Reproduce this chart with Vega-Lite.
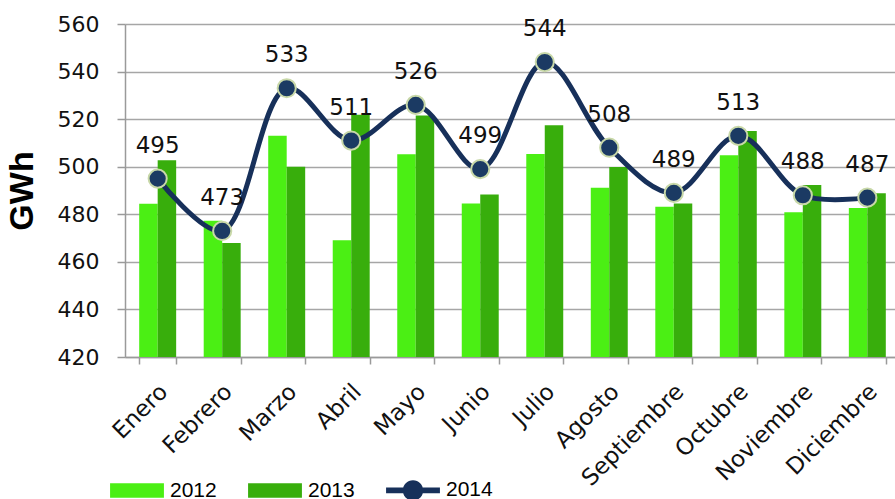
{
  "$schema": "https://vega.github.io/schema/vega-lite/v6.json",
  "autosize": "none",
  "width": 775,
  "height": 333,
  "padding": {"left": 125, "top": 24, "right": 0, "bottom": 142},
  "background": "white",
  "config": {"view": {"stroke": null}},
  "data": {"values": [
    {"mes": "Enero", "serie": "2012", "valor": 484.4},
    {"mes": "Enero", "serie": "2013", "valor": 502.7},
    {"mes": "Enero", "serie": "2014", "valor": 495},
    {"mes": "Febrero", "serie": "2012", "valor": 477.3},
    {"mes": "Febrero", "serie": "2013", "valor": 467.9},
    {"mes": "Febrero", "serie": "2014", "valor": 473},
    {"mes": "Marzo", "serie": "2012", "valor": 513},
    {"mes": "Marzo", "serie": "2013", "valor": 500},
    {"mes": "Marzo", "serie": "2014", "valor": 533},
    {"mes": "Abril", "serie": "2012", "valor": 469.1},
    {"mes": "Abril", "serie": "2013", "valor": 521.8},
    {"mes": "Abril", "serie": "2014", "valor": 511},
    {"mes": "Mayo", "serie": "2012", "valor": 505.2},
    {"mes": "Mayo", "serie": "2013", "valor": 521.5},
    {"mes": "Mayo", "serie": "2014", "valor": 526},
    {"mes": "Junio", "serie": "2012", "valor": 484.5},
    {"mes": "Junio", "serie": "2013", "valor": 488.3},
    {"mes": "Junio", "serie": "2014", "valor": 499},
    {"mes": "Julio", "serie": "2012", "valor": 505.3},
    {"mes": "Julio", "serie": "2013", "valor": 517.4},
    {"mes": "Julio", "serie": "2014", "valor": 544},
    {"mes": "Agosto", "serie": "2012", "valor": 491.2},
    {"mes": "Agosto", "serie": "2013", "valor": 499.9},
    {"mes": "Agosto", "serie": "2014", "valor": 508},
    {"mes": "Septiembre", "serie": "2012", "valor": 483.2},
    {"mes": "Septiembre", "serie": "2013", "valor": 484.5},
    {"mes": "Septiembre", "serie": "2014", "valor": 489},
    {"mes": "Octubre", "serie": "2012", "valor": 504.8},
    {"mes": "Octubre", "serie": "2013", "valor": 515},
    {"mes": "Octubre", "serie": "2014", "valor": 513},
    {"mes": "Noviembre", "serie": "2012", "valor": 480.9},
    {"mes": "Noviembre", "serie": "2013", "valor": 492.3},
    {"mes": "Noviembre", "serie": "2014", "valor": 488},
    {"mes": "Diciembre", "serie": "2012", "valor": 482.6},
    {"mes": "Diciembre", "serie": "2013", "valor": 488.8},
    {"mes": "Diciembre", "serie": "2014", "valor": 487}
  ]},
  "encoding": {
    "x": {
      "field": "mes", "type": "nominal",
      "sort": ["Enero","Febrero","Marzo","Abril","Mayo","Junio","Julio","Agosto","Septiembre","Octubre","Noviembre","Diciembre"],
      "scale": {"paddingInner": 0.427, "paddingOuter": 0.22},
      "axis": {
        "title": null, "labelAngle": -45, "labelAlign": "right", "labelBaseline": "top",
        "labelFont": "DejaVu Sans", "labelFontSize": 23, "labelColor": "#111111",
        "labelPadding": 16, "labelOffset": -2, "tickBand": "extent", "tickColor": "#9a9a9a", "tickSize": 7, "tickWidth": 1.5,
        "domainColor": "#9a9a9a", "domainWidth": 1.5, "grid": false
      }
    },
    "y": {
      "field": "valor", "type": "quantitative",
      "scale": {"domain": [420, 560], "zero": false, "nice": false},
      "axis": {
        "title": "GWh", "titleFont": "Liberation Sans", "titleFontSize": 34, "titleFontWeight": "bold",
        "titleColor": "#000000", "titlePadding": 18,
        "values": [420, 440, 460, 480, 500, 520, 540, 560],
        "labelFont": "DejaVu Sans", "labelFontSize": 22, "labelColor": "#111111", "labelPadding": 18,
        "tickColor": "#9a9a9a", "tickSize": 8, "tickWidth": 1.5,
        "domainColor": "#9a9a9a", "domainWidth": 1.5,
        "grid": true, "gridColor": "#a6a6a6", "gridWidth": 1.5
      }
    }
  },
  "layer": [
    {
      "transform": [{"filter": "datum.serie !== '2014'"}],
      "mark": {"type": "bar", "clip": true},
      "encoding": {
        "xOffset": {"field": "serie", "type": "nominal", "scale": {"domain": ["2012", "2013"], "paddingInner": 0, "paddingOuter": 0}},
        "color": {
          "field": "serie", "type": "nominal",
          "scale": {"domain": ["2012", "2013", "2014"], "range": ["#4BEF14", "#38AE0C", "#17305A"]},
          "legend": {
            "orient": "none", "legendX": -15, "legendY": 439, "direction": "horizontal", "title": null,
            "labelFont": "Liberation Sans", "labelFontSize": 21, "labelColor": "#000000",
            "symbolSize": 2900, "symbolStrokeWidth": 0, "symbolOpacity": 1, "columnPadding": 31, "labelOffset": 6,
            "encode": {
              "symbols": {
                "update": {
                  "shape": {"signal": "datum.value === '2014' ? 'M-1,-0.11L1,-0.11L1,0.11L-1,0.11Z M0.38,0A0.38,0.38 0 1,1 -0.38,0A0.38,0.38 0 1,1 0.38,0Z' : 'M-1,-0.27L1,-0.27L1,0.27L-1,0.27Z'"},
                  "fill": {"signal": "datum.value === '2014' ? '#17305A' : (datum.value === '2012' ? '#4BEF14' : '#38AE0C')"},
                  "opacity": {"value": 1}
                }
              }
            }
          }
        }
      }
    },
    {
      "transform": [{"filter": "datum.serie === '2014'"}],
      "mark": {"type": "line", "interpolate": "catmull-rom", "color": "#17305A", "strokeWidth": 5},
      "encoding": {}
    },
    {
      "transform": [{"filter": "datum.serie === '2014'"}],
      "mark": {"type": "point", "filled": true, "fill": "#1B3A63", "stroke": "#C8D8A8", "strokeWidth": 2, "size": 330, "opacity": 1},
      "encoding": {}
    },
    {
      "transform": [{"filter": "datum.serie === '2014'"}],
      "mark": {"type": "text", "dy": -33, "font": "DejaVu Sans", "fontSize": 23, "color": "#111111"},
      "encoding": {"text": {"field": "valor", "type": "quantitative"}}
    }
  ]
}
